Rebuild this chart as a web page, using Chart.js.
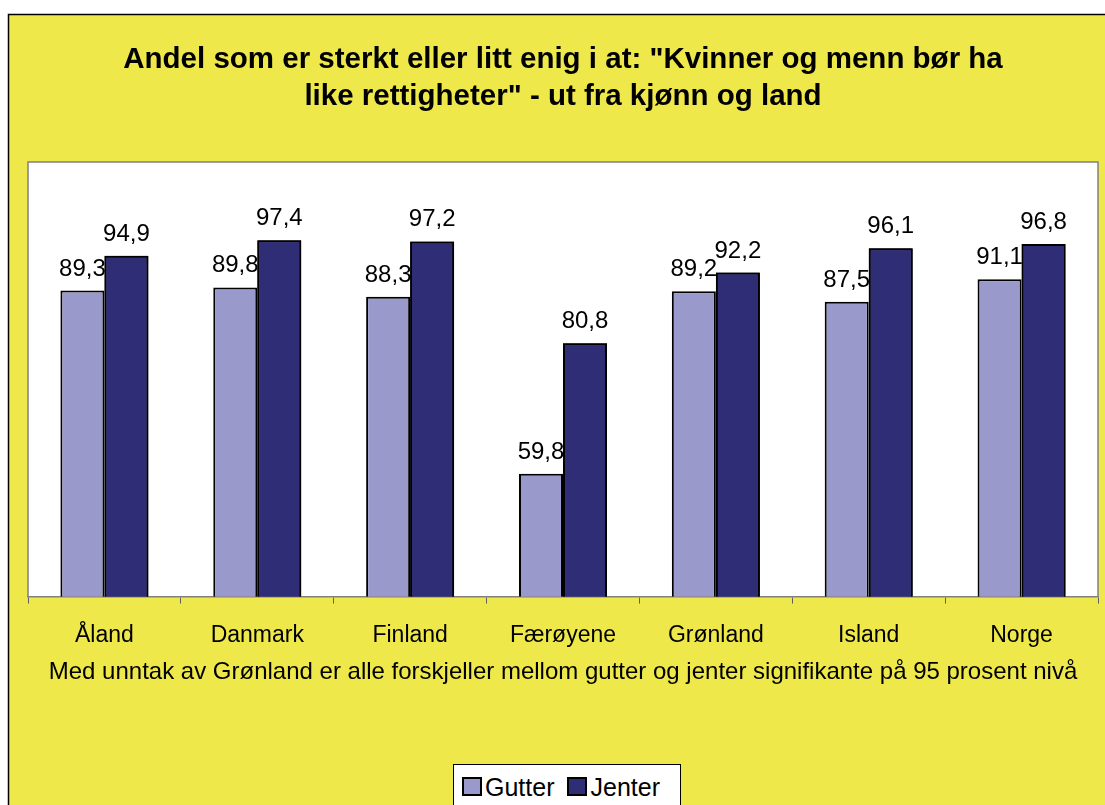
<!DOCTYPE html>
<html lang="no">
<head>
<meta charset="utf-8">
<title>Andel som er sterkt eller litt enig</title>
<script src="https://cdn.jsdelivr.net/npm/chart.js@4.4.1/dist/chart.umd.min.js"></script>
<style>
    html, body { margin: 0; padding: 0; background: #fff; overflow: hidden; }
    #wrap { position: relative; width: 1105px; height: 805px; }
    #legend {
        position: absolute; left: 453px; top: 764px; width: 228px; height: 50px;
        box-sizing: border-box; background: #fff; border: 1px solid #000;
        display: flex; align-items: flex-start; padding: 8px 0 0 8px;
        font-family: "Liberation Sans", Arial, sans-serif; font-size: 25px; color: #000;
    }
    .legend-item { display: flex; align-items: center; height: 28px; line-height: 28px; margin-right: 13px; }
    .legend-box { width: 16px; height: 15px; border: 2px solid #000; margin-right: 3px; margin-top: -1px; }
</style>
</head>
<body>
<div id="wrap">
    <canvas id="chart"></canvas>
    <div id="legend"></div>
</div>
<script>
// --- DATA ---
const countries = ['Åland', 'Danmark', 'Finland', 'Færøyene', 'Grønland', 'Island', 'Norge'];
const gutter = [89.3, 89.8, 88.3, 59.8, 89.2, 87.5, 91.1];
const jenter = [94.9, 97.4, 97.2, 80.8, 92.2, 96.1, 96.8];
const seriesNames = ['Gutter', 'Jenter'];
const seriesColors = ['#9999CC', '#2E2D75'];

const titleLines = ['Andel som er sterkt eller litt enig i at: "Kvinner og menn bør ha', 'like rettigheter" - ut fra kjønn og land'];
const note = 'Med unntak av Grønland er alle forskjeller mellom gutter og jenter signifikante på 95 prosent nivå';

const FONT = '"Liberation Sans", Arial, sans-serif';
const YELLOW = '#EEE84A';

// bakgrunn + ramme rundt plottet
const backgroundPlugin = {
    id: 'background',
    beforeDraw(chart) {
        const ctx = chart.ctx;
        const a = chart.chartArea;
        ctx.save();
        ctx.fillStyle = '#fff';
        ctx.fillRect(0, 0, chart.width, chart.height);
        ctx.fillStyle = YELLOW;
        ctx.fillRect(8, 14, chart.width, chart.height);
        ctx.strokeStyle = '#000';
        ctx.lineWidth = 1.5;
        ctx.strokeRect(8.5, 14.5, chart.width + 10, chart.height + 10);
        ctx.fillStyle = '#fff';
        ctx.fillRect(a.left, a.top, a.right - a.left, a.bottom - a.top);
        ctx.strokeStyle = '#808080';
        ctx.lineWidth = 1.5;
        ctx.beginPath();
        ctx.moveTo(a.left, a.bottom);
        ctx.lineTo(a.left, a.top);
        ctx.lineTo(a.right, a.top);
        ctx.lineTo(a.right, a.bottom);
        ctx.stroke();
        ctx.restore();
    }
};

// verdier over søylene (komma som desimaltegn)
const valueLabels = {
    id: 'valueLabels',
    afterDatasetsDraw(chart) {
        const ctx = chart.ctx;
        const a = chart.chartArea;
        const drawLabels = (i) => {
            const meta = chart.getDatasetMeta(i);
            ctx.save();
            ctx.font = '24px ' + FONT;
            ctx.fillStyle = '#000';
            ctx.textAlign = 'center';
            ctx.textBaseline = 'alphabetic';
            meta.data.forEach((bar, j) => {
                const v = chart.data.datasets[i].data[j];
                ctx.fillText(v.toFixed(1).replace('.', ','), bar.x, bar.y - 15);
            });
            ctx.restore();
        };
        drawLabels(0);
        // jentesøylene skal ligge over guttetallene
        ctx.save();
        ctx.beginPath();
        ctx.rect(a.left, a.top, a.right - a.left, a.bottom - a.top);
        ctx.clip();
        chart.getDatasetMeta(1).controller.draw();
        ctx.restore();
        drawLabels(1);
    }
};

new Chart(document.getElementById('chart'), {
    type: 'bar',
    data: {
        labels: countries,
        datasets: [
            { label: seriesNames[0], data: gutter, backgroundColor: seriesColors[0] },
            { label: seriesNames[1], data: jenter, backgroundColor: seriesColors[1] }
        ]
    },
    options: {
        responsive: true,
        maintainAspectRatio: false,
        animation: false,
        events: [],
        layout: { padding: { left: 28, right: 7, top: 0, bottom: 90 } },
        datasets: {
            bar: {
                categoryPercentage: 0.576,
                barPercentage: 1,
                borderColor: '#000',
                borderWidth: 2,
                borderSkipped: 'start'
            }
        },
        scales: {
            x: {
                grid: {
                    drawOnChartArea: false,
                    drawTicks: true,
                    tickLength: 7,
                    color: '#606060'
                },
                border: { display: true, color: '#808080', width: 1.5 },
                ticks: {
                    color: '#000',
                    padding: 18,
                    maxRotation: 0,
                    font: { family: FONT, size: 23 }
                },
                title: {
                    display: true,
                    text: note,
                    color: '#000',
                    padding: { top: -9.6, bottom: 28.6 },
                    font: { family: FONT, size: 24 }
                }
            },
            y: {
                display: false,
                min: 40,
                max: 110
            }
        },
        plugins: {
            legend: { display: false },
            tooltip: { enabled: false },
            title: {
                display: true,
                text: titleLines,
                color: '#000',
                padding: { top: 41.5, bottom: 46.5 },
                font: { family: FONT, size: 29.5, weight: 'bold', lineHeight: 1.254 }
            }
        }
    },
    plugins: [backgroundPlugin, valueLabels]
});

function renderLegend() {
    const container = document.getElementById('legend');
    container.innerHTML = '';
    seriesNames.forEach((name, i) => {
        const div = document.createElement('div');
        div.className = 'legend-item';
        div.innerHTML = `<span class="legend-box" style="background:${seriesColors[i]}"></span><span>${name}</span>`;
        container.appendChild(div);
    });
}
renderLegend();
</script>
</body>
</html>
